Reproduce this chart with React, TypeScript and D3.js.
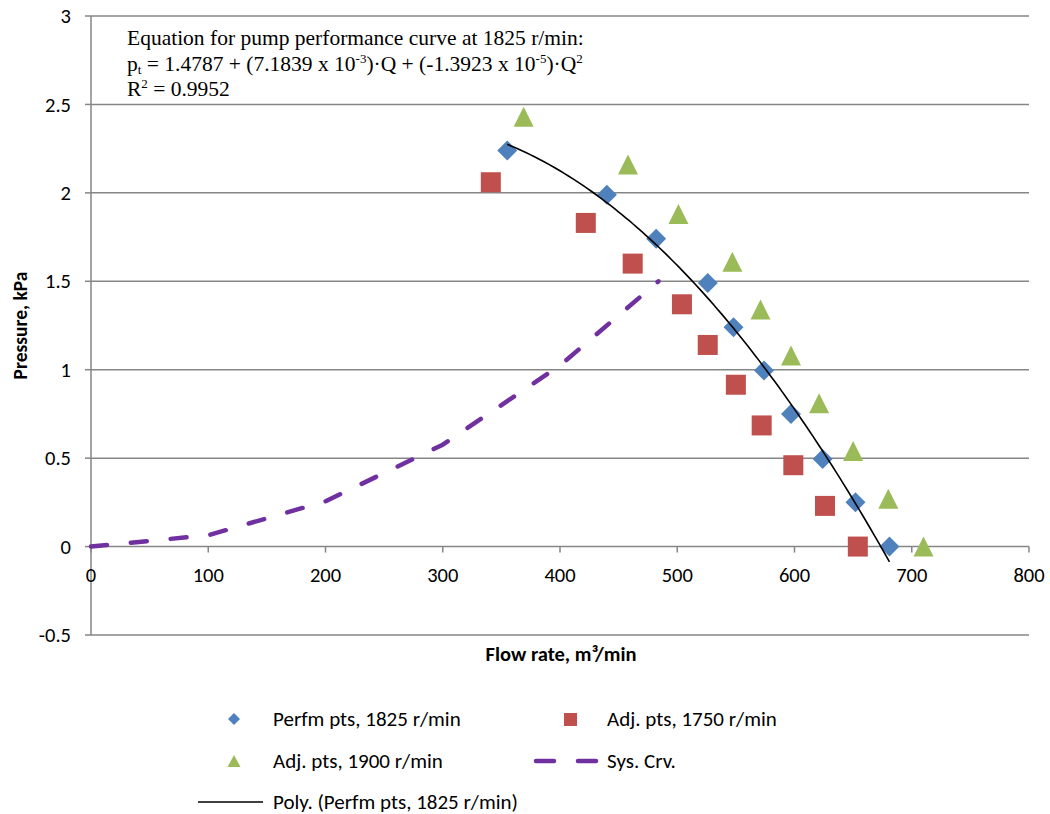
import React from "react";
import * as d3 from "d3";

const perfQ = [355, 440, 482, 526, 548, 574, 597, 624, 652, 681];
const perfP = [2.24, 1.99, 1.74, 1.49, 1.24, 0.995, 0.75, 0.495, 0.25, 0];
const adj1750Q = [341, 422, 462, 504, 526, 550, 572, 599, 626, 654];
const adj1750P = [2.06, 1.83, 1.6, 1.37, 1.14, 0.915, 0.685, 0.46, 0.23, 0];
const adj1900Q = [369, 458, 501, 547, 571, 597, 621, 650, 680, 710];
const adj1900P = [2.43, 2.16, 1.88, 1.61, 1.34, 1.08, 0.81, 0.54, 0.27, 0];
const sysQ = [0, 100, 200, 300, 400, 484];
const sysP = [0, 0.064, 0.256, 0.576, 1.024, 1.5];
const polyCoef = [1.4787, 7.1839e-3, -1.3923e-5];
const xTicks = [0, 100, 200, 300, 400, 500, 600, 700, 800];
const yTicks = [-0.5, 0, 0.5, 1, 1.5, 2, 2.5, 3];

const BLUE = "#4F81BD";
const RED = "#C0504D";
const GREEN = "#9BBB59";
const PURPLE = "#7030A0";
const GRID = "#868686";
const SANS = "Carlito, Calibri, Lato, 'Liberation Sans', sans-serif";
const SERIF = "'Liberation Serif', 'Times New Roman', serif";

const x = d3.scaleLinear().domain([0, 800]).range([91, 1029]);
const y = d3.scaleLinear().domain([-0.5, 3]).range([635, 16]);

const diamond = (cx: number, cy: number, r: number) =>
  `M${cx},${cy - r}L${cx + r},${cy}L${cx},${cy + r}L${cx - r},${cy}Z`;
const triangle = (cx: number, cy: number, w: number, h: number) =>
  `M${cx},${cy - h / 2}L${cx + w / 2},${cy + h / 2}L${cx - w / 2},${cy + h / 2}Z`;

export default function App() {
  const line = d3.line<[number, number]>().x((d) => x(d[0])).y((d) => y(d[1]));
  const polyPts: [number, number][] = d3
    .range(0, 101)
    .map((i) => {
      const q = perfQ[0] + ((perfQ[perfQ.length - 1] - perfQ[0]) * i) / 100;
      return [q, polyCoef[0] + polyCoef[1] * q + polyCoef[2] * q * q] as [number, number];
    });
  const sysPts: [number, number][] = sysQ.map((q, i) => [q, sysP[i]]);

  return (
    <svg
      width={1050}
      height={814}
      style={{ position: "absolute", left: 0, top: 0, background: "#fff" }}
    >
      {/* gridlines */}
      {yTicks.map((t) => (
        <line key={"g" + t} x1={x(0)} x2={x(800)} y1={y(t)} y2={y(t)} stroke={GRID} strokeWidth={1.5} />
      ))}
      {/* y axis */}
      <line x1={x(0)} x2={x(0)} y1={y(3)} y2={y(-0.5)} stroke={GRID} strokeWidth={1.5} />
      {yTicks.map((t) => (
        <g key={"yt" + t}>
          <line x1={x(0) - 6} x2={x(0)} y1={y(t)} y2={y(t)} stroke={GRID} strokeWidth={1.5} />
          <text x={71} y={y(t)} dy="0.35em" textAnchor="end" fontFamily={SANS} fontSize={20.5} fill="#000">
            {t}
          </text>
        </g>
      ))}
      {/* x axis ticks at y=0 */}
      {xTicks.map((t) => (
        <g key={"xt" + t}>
          <line x1={x(t)} x2={x(t)} y1={y(0)} y2={y(0) + 6} stroke={GRID} strokeWidth={1.5} />
          <text x={x(t)} y={575} dy="0.35em" textAnchor="middle" fontFamily={SANS} fontSize={20.5} fill="#000">
            {t}
          </text>
        </g>
      ))}
      {/* axis titles */}
      <text
        transform={`translate(20,${y(1.25)}) rotate(-90)`}
        textAnchor="middle"
        dy="0.35em"
        fontFamily={SANS}
        fontSize={19.5}
        fontWeight="bold"
      >
        Pressure, kPa
      </text>
      <text x={561} y={654} dy="0.35em" textAnchor="middle" fontFamily={SANS} fontSize={20.5} fontWeight="bold">
        Flow rate, m³/min
      </text>

      {/* system curve */}
      <path
        d={line(sysPts) || ""}
        fill="none"
        stroke={PURPLE}
        strokeWidth={4.5}
        strokeLinecap="round"
        strokeLinejoin="round"
        strokeDasharray="16 24"
      />

      {/* markers */}
      {adj1750Q.map((q, i) => (
        <rect key={"r" + i} x={x(q) - 10} y={y(adj1750P[i]) - 10} width={20} height={20} fill={RED} />
      ))}
      {adj1900Q.map((q, i) => (
        <path key={"t" + i} d={triangle(x(q), y(adj1900P[i]), 20, 20)} fill={GREEN} />
      ))}
      {perfQ.map((q, i) => (
        <path key={"d" + i} d={diamond(x(q), y(perfP[i]), 10)} fill={BLUE} />
      ))}

      {/* polynomial trendline */}
      <path d={line(polyPts) || ""} fill="none" stroke="#000" strokeWidth={1.6} />

      {/* equation */}
      <g fontFamily={SERIF} fontSize={21.5} fill="#000">
        <text x={127} y={45}>Equation for pump performance curve at 1825 r/min:</text>
        <text x={127} y={70.5}>
          p<tspan fontSize={13} dy={3}>t</tspan>
          <tspan dy={-3}> = 1.4787 + (7.1839 x 10</tspan>
          <tspan fontSize={13} dy={-8}>-3</tspan>
          <tspan dy={8}>)·Q + (-1.3923 x 10</tspan>
          <tspan fontSize={13} dy={-8}>-5</tspan>
          <tspan dy={8}>)·Q</tspan>
          <tspan fontSize={13} dy={-8}>2</tspan>
        </text>
        <text x={127} y={96}>
          R<tspan fontSize={13} dy={-8}>2</tspan>
          <tspan dy={8}> = 0.9952</tspan>
        </text>
      </g>

      {/* legend */}
      <g fontFamily={SANS} fontSize={21} fill="#000">
        <path d={diamond(234, 719, 6)} fill={BLUE} />
        <text x={273} y={719} dy="0.35em">Perfm pts, 1825 r/min</text>
        <rect x={564} y={713} width={13} height={13} fill={RED} />
        <text x={607} y={719} dy="0.35em">Adj. pts, 1750 r/min</text>
        <path d={triangle(234, 761, 13, 12)} fill={GREEN} />
        <text x={273} y={761} dy="0.35em">Adj. pts, 1900 r/min</text>
        <line x1={536} x2={598} y1={761} y2={761} stroke={PURPLE} strokeWidth={4.5} strokeLinecap="round" strokeDasharray="18 24" />
        <text x={607} y={761} dy="0.35em">Sys. Crv.</text>
        <line x1={198} x2={263} y1={802} y2={802} stroke="#000" strokeWidth={1.6} />
        <text x={273} y={802} dy="0.35em">Poly. (Perfm pts, 1825 r/min)</text>
      </g>
    </svg>
  );
}
